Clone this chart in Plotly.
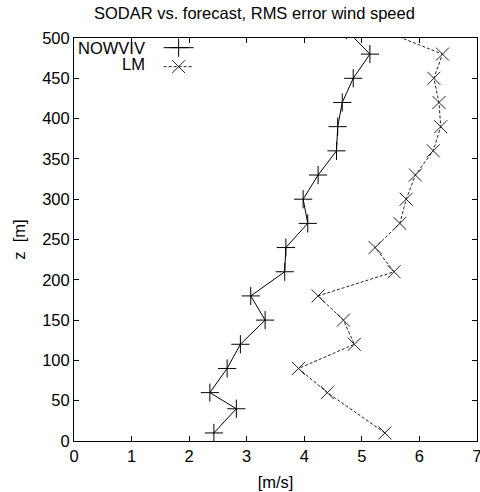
import plotly.graph_objects as go

# heights [m]
z_nowviv = [10, 40, 60, 90, 120, 150, 180, 210, 240, 270, 300, 330, 360, 390, 420, 450, 480, 510]
rms_nowviv = [2.43, 2.82, 2.36, 2.66, 2.89, 3.32, 3.07, 3.66, 3.68, 4.06, 3.98, 4.24, 4.56, 4.58, 4.66, 4.85, 5.14, 4.73]

z_lm = [10, 60, 90, 120, 150, 180, 210, 240, 270, 300, 330, 360, 390, 420, 450, 480, 510]
rms_lm = [5.40, 4.40, 3.90, 4.87, 4.68, 4.24, 5.56, 5.23, 5.66, 5.77, 5.93, 6.24, 6.37, 6.34, 6.25, 6.40, 5.34]

x_ticks = [0, 1, 2, 3, 4, 5, 6, 7]
y_ticks = [0, 50, 100, 150, 200, 250, 300, 350, 400, 450, 500]

FONT = "Liberation Sans, Arial, sans-serif"
FS = 16.5

fig = go.Figure()
fig.add_trace(go.Scatter(
    x=rms_nowviv, y=z_nowviv, mode="lines+markers", name=" ",
    line=dict(color="black", width=1),
    marker=dict(symbol="cross-thin-open", size=13, line=dict(color="black", width=1)),
))
fig.add_trace(go.Scatter(
    x=rms_lm, y=z_lm, mode="lines+markers", name=" ",
    line=dict(color="#222222", width=1, dash="3px,2px"),
    marker=dict(symbol="x-thin-open", size=13, line=dict(color="black", width=1)),
))

axis_common = dict(
    showline=True, linecolor="black", linewidth=1, mirror="ticks",
    ticks="inside", ticklen=5, tickcolor="black", tickwidth=1,
    showgrid=False, zeroline=False, ticklabeloverflow="allow", automargin=False,
    tickfont=dict(family=FONT, size=FS, color="black"),
)

fig.update_xaxes(range=[0, 7], tickvals=x_ticks,
                 title=dict(text="[m/s]", font=dict(family=FONT, size=FS, color="black"), standoff=12),
                 **axis_common)
fig.update_yaxes(range=[0, 500], tickvals=y_ticks,
                 title=dict(text="z  [m]", font=dict(family=FONT, size=FS, color="black"), standoff=12),
                 **axis_common)

fig.update_layout(
    width=480, height=492,
    margin=dict(l=74, r=3, t=38, b=51),
    paper_bgcolor="white", plot_bgcolor="white",
    title=dict(text="SODAR vs. forecast, RMS error wind speed", x=0.53, xanchor="center",
               y=0.973, yanchor="middle",
               font=dict(family=FONT, size=FS, color="black")),
    showlegend=True,
    legend=dict(x=0.21, y=1.012, xanchor="left", yanchor="top",
                bgcolor="rgba(0,0,0,0)", font=dict(family=FONT, size=6),
                tracegroupgap=0, itemwidth=30),
    font=dict(family=FONT, color="black"),
)

fig.add_annotation(text="NOWVIV", xref="paper", yref="paper", x=0.18, y=0.976,
                   xanchor="right", yanchor="middle", showarrow=False,
                   font=dict(family=FONT, size=FS, color="black"))
fig.add_annotation(text="LM", xref="paper", yref="paper", x=0.18, y=0.936,
                   xanchor="right", yanchor="middle", showarrow=False,
                   font=dict(family=FONT, size=FS, color="black"))

fig.write_html("out.html", config={"displayModeBar": False},
               post_script="document.body.style.margin='0';")
